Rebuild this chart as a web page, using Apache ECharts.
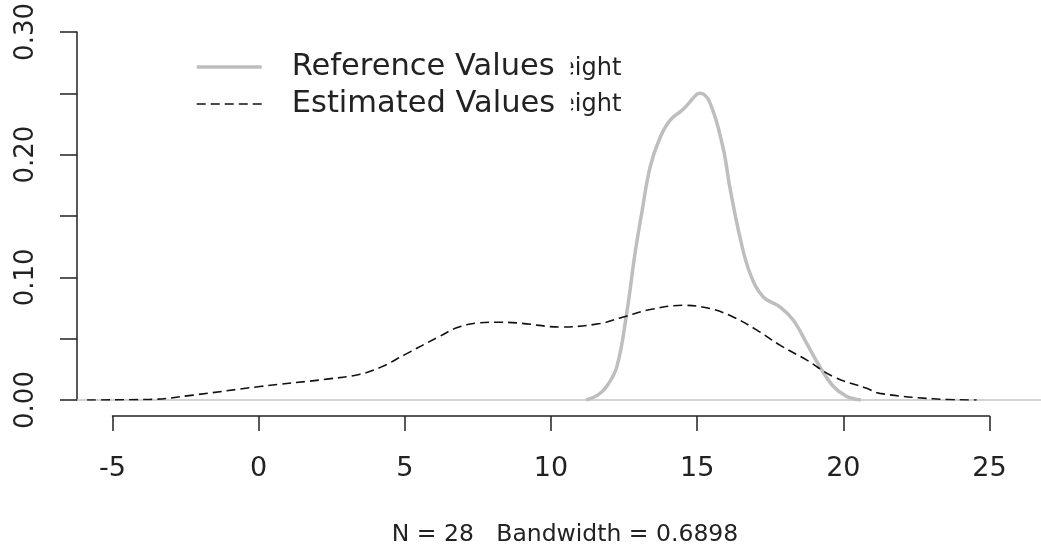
<!DOCTYPE html>
<html>
<head>
<meta charset="utf-8">
<script src="https://cdn.jsdelivr.net/npm/echarts@6/dist/echarts.min.js"></script>
<style>
html,body{margin:0;padding:0;background:#fff;}
#chart{width:1041px;height:555px;}
</style>
</head>
<body>
<div id="chart"></div>
<script>
// ---- data ----
const seriesNames = ['Reference Values', 'Estimated Values'];
const refX = [11.2, 11.6, 11.9, 12.25, 12.59, 12.87, 13.10, 13.39, 13.73, 14.07, 14.52, 14.98, 15.1, 15.44, 15.88, 16.12, 16.46, 16.81, 17.26, 17.83, 18.29, 18.75, 19.2, 19.66, 20.11, 20.6];
const refY = [0, 0.004, 0.011, 0.027, 0.071, 0.119, 0.152, 0.190, 0.214, 0.228, 0.237, 0.249, 0.250, 0.242, 0.206, 0.173, 0.133, 0.103, 0.084, 0.076, 0.065, 0.046, 0.027, 0.011, 0.003, 0];
const estX = [-5.87, -3.7, -2.24, 0.04, 2.33, 3.47, 4.2, 5.0, 6.2, 6.8, 7.5, 8.3, 9.0, 10.3, 11.67, 12.47, 13.39, 14.52, 15.44, 16.23, 17.04, 17.83, 18.75, 19.66, 20.8, 21.25, 23.07, 24.56];
const estY = [0, 0.0005, 0.004, 0.011, 0.017, 0.021, 0.027, 0.037, 0.052, 0.059, 0.0628, 0.0634, 0.0625, 0.0595, 0.0623, 0.0677, 0.0737, 0.0772, 0.0745, 0.0677, 0.057, 0.0447, 0.0325, 0.019, 0.0095, 0.0054, 0.001, 0];
const xTicks = [-5, 0, 5, 10, 15, 20, 25];
const yTicks = [0, 0.05, 0.10, 0.15, 0.20, 0.25, 0.30];
const subTitle = 'N = 28   Bandwidth = 0.6898';
const ghostText = 'eight';

const FONT = 'DejaVu Sans';
const zip = (xs, ys) => xs.map((x, i) => [x, ys[i]]);

const chart = echarts.init(document.getElementById('chart'));
chart.setOption({
  animation: false,
  backgroundColor: '#fff',
  grid: [
    { left: 77, top: 31, width: 964, bottom: 155, containLabel: false },
    { left: 112.5, width: 877, top: 415, height: 1, containLabel: false }
  ],
  xAxis: [
    { type: 'value', gridIndex: 0, min: -6.215, max: 26.76, show: false, axisLine: { onZero: false } },
    {
      type: 'value', gridIndex: 1, min: xTicks[0], max: xTicks[xTicks.length - 1], interval: 5,
      position: 'bottom',
      axisLine: { show: true, onZero: false, lineStyle: { color: '#222', width: 1.5 } },
      axisTick: { show: true, length: 15, lineStyle: { color: '#222', width: 1.5 } },
      splitLine: { show: false },
      axisLabel: { show: true, margin: 39, fontFamily: FONT, fontSize: 27, color: '#222' }
    }
  ],
  yAxis: [
    {
      type: 'value', gridIndex: 0, min: yTicks[0], max: yTicks[yTicks.length - 1], interval: 0.05,
      position: 'left',
      axisLine: { show: true, onZero: false, lineStyle: { color: '#222', width: 1.5 } },
      axisTick: { show: true, length: 17, lineStyle: { color: '#222', width: 1.5 } },
      splitLine: { show: false },
      axisLabel: {
        show: true, rotate: 90, margin: 38, fontFamily: FONT, fontSize: 26, color: '#222',
        formatter: v => (Math.round(v * 100) % 10 === 0 ? v.toFixed(2) : '')
      }
    },
    { type: 'value', gridIndex: 1, show: false }
  ],
  legend: {
    orient: 'vertical', left: 195, top: 49, itemGap: 1, padding: 0,
    itemWidth: 65, itemHeight: 14,
    data: [
      { name: seriesNames[0], lineStyle: { width: 3.5, color: '#bebebe' } },
      { name: seriesNames[1], lineStyle: { width: 1.6, color: '#111' } }
    ],
    itemStyle: { opacity: 0 },
    textStyle: { fontFamily: FONT, fontSize: 30.5, color: '#222', lineHeight: 28, padding: [8, 16, 0, 25], backgroundColor: '#fff' },
    selectedMode: false
  },
  graphic: [
    { type: 'text', z: 1, style: { x: 560, y: 81, text: ghostText, font: '24px "DejaVu Sans"', fill: '#222', textVerticalAlign: 'bottom' } },
    { type: 'text', z: 1, style: { x: 560, y: 117, text: ghostText, font: '24px "DejaVu Sans"', fill: '#222', textVerticalAlign: 'bottom' } },
    { type: 'text', style: { x: 565, y: 535, text: subTitle, font: '23.5px "DejaVu Sans"', fill: '#222', textAlign: 'center', textVerticalAlign: 'middle' } }
  ],
  series: [
    {
      name: seriesNames[1], type: 'line', xAxisIndex: 0, yAxisIndex: 0,
      data: zip(estX, estY), showSymbol: false, symbol: 'none',
      smooth: 0.4, z: 3,
      lineStyle: { color: '#111', width: 1.6, type: [9, 5] },
      itemStyle: { color: '#111' },
      markLine: {
        silent: true, symbol: 'none', label: { show: false }, z: 1,
        lineStyle: { color: '#c6c6c6', width: 1.5, type: 'solid' },
        data: [{ yAxis: 0 }]
      }
    },
    {
      name: seriesNames[0], type: 'line', xAxisIndex: 0, yAxisIndex: 0,
      data: zip(refX, refY), showSymbol: false, symbol: 'none',
      smooth: 0.4, z: 2,
      lineStyle: { color: '#bebebe', width: 3.5 },
      itemStyle: { color: '#bebebe' }
    }
  ]
});
</script>
</body>
</html>
